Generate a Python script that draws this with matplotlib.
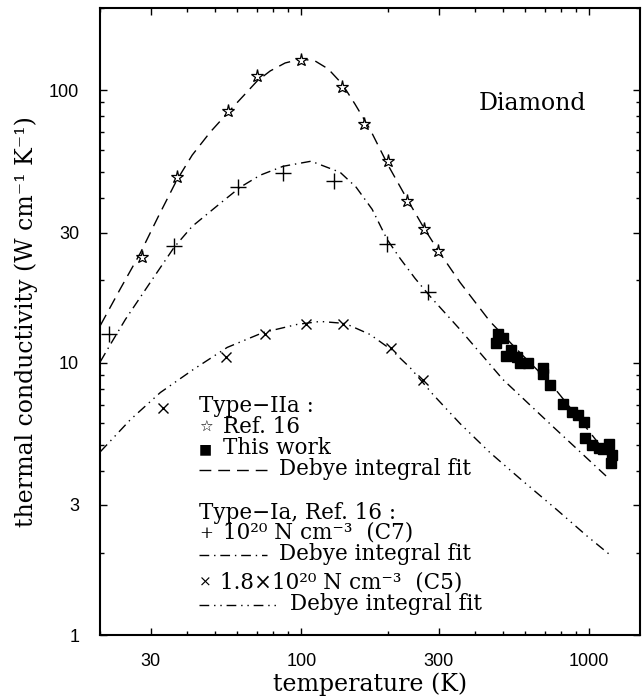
import matplotlib
matplotlib.use('Agg')
import matplotlib.pyplot as plt
from matplotlib.lines import Line2D
from matplotlib.ticker import FixedLocator, LogLocator, NullFormatter, FixedFormatter

plt.rc('font', family='DejaVu Serif', size=15)

# Type IIa, Ref. 16 (stars)
T_ref16 = [27.9, 36.9, 55.8, 70.4, 100, 139, 165, 200, 232, 266, 299]
k_ref16 = [24.4, 48.0, 83.5, 112.6, 129, 102.6, 74.8, 55.1, 39.3, 30.8, 25.7]

# Type IIa, this work (squares)
T_this = [474, 483, 503, 513, 533, 562, 574, 614, 689, 692, 730, 812, 868,
          911, 958, 970, 1023, 1080, 1117, 1169, 1186, 1201]
k_this = [11.8, 12.7, 12.3, 10.6, 11.1, 10.5, 10.0, 10.0, 9.11, 9.56, 8.30,
          7.07, 6.57, 6.44, 6.03, 5.29, 4.99, 4.86, 4.82, 5.02, 4.28, 4.59]

# Type Ia, C7 (plus) and C5 (cross)
T_c7 = [21.5, 36.2, 60.2, 86.4, 130.3, 198.6, 275]
k_c7 = [12.75, 26.7, 43.9, 49.4, 46.2, 27.2, 18.1]
T_c5 = [33.1, 54.6, 75, 104.2, 140, 205, 264]
k_c5 = [6.8, 10.5, 12.7, 13.9, 13.9, 11.3, 8.6]

# Debye integral fits
T_fit2a = [20.07, 23.5, 27.6, 31.9, 36.8, 41.8, 48.3, 55.8, 62.9, 70.3, 78.0,
           87.9, 100, 111.7, 124, 138.7, 153.6, 173.1, 200.1, 231.1, 266.9,
           298.5, 355.8, 452, 574, 730, 928, 1179]
k_fit2a = [13.7, 18.6, 25.2, 34.4, 46.3, 57.7, 70.1, 83.0, 95.1, 108, 117.5,
           125.7, 130.0, 127.8, 119.5, 105.2, 88.8, 71.9, 53.0, 40.4, 31.1,
           25.8, 19.68, 14.15, 10.88, 8.44, 6.17, 4.47]
T_fitc7 = [20.07, 21.73, 24.5, 29.9, 36.2, 41.8, 52.8, 61.4, 72.0, 86.5, 108.2,
           136.4, 155.0, 176.2, 198.6, 220.3, 248.3, 280.0, 355.7, 501.5, 747.5, 1160]
k_fitc7 = [10.09, 11.65, 14.39, 19.68, 26.5, 31.6, 38.7, 44.0, 48.7, 52.5, 54.8,
           49.9, 44.0, 36.5, 28.3, 24.1, 20.36, 17.49, 13.22, 8.66, 5.82, 3.78]
T_fitc5 = [20.07, 25.5, 32.4, 42.2, 55.3, 73.8, 96.8, 116.3, 142.0, 173.4, 205.0,
           238.6, 286.7, 355.8, 452.1, 574.4, 772.0, 981, 1179]
k_fitc5 = [4.71, 6.17, 7.76, 9.43, 11.36, 12.89, 13.80, 14.15, 13.91, 12.67, 11.16,
           9.58, 7.63, 5.97, 4.67, 3.75, 2.88, 2.31, 1.97]

ls_2a = (0, (8.5, 5))
ls_c7 = (0, (7, 3.5, 1, 3.5))
ls_c5 = (0, (7, 3.5, 1, 3.5, 1, 3.5))

fig = plt.figure(figsize=(6.42, 6.98), dpi=100)
ax = fig.add_axes([100/642, 63/698, 540/642, 627/698])

ax.plot(T_fit2a, k_fit2a, color='k', lw=1.0, ls=ls_2a)
ax.plot(T_fitc7, k_fitc7, color='k', lw=1.0, ls=ls_c7)
ax.plot(T_fitc5, k_fitc5, color='k', lw=1.0, ls=ls_c5)

ax.plot(T_ref16, k_ref16, '*', ms=9.5, mfc='white', mec='k', mew=0.9)
ax.plot(T_this, k_this, 's', ms=7.5, color='k')
ax.plot(T_c7, k_c7, '+', ms=11, mew=1.0, color='k')
ax.plot(T_c5, k_c5, 'x', ms=7, mew=1.0, color='k')

ax.set_xscale('log')
ax.set_yscale('log')
ax.set_xlim(20, 1500)
ax.set_ylim(1, 200)

ax.xaxis.set_major_locator(FixedLocator([30, 100, 300, 1000]))
ax.xaxis.set_major_formatter(FixedFormatter(['30', '100', '300', '1000']))
ax.yaxis.set_major_locator(FixedLocator([1, 3, 10, 30, 100]))
ax.yaxis.set_major_formatter(FixedFormatter(['1', '3', '10', '30', '100']))
for a in (ax.xaxis, ax.yaxis):
    a.set_minor_locator(LogLocator(base=10, subs=range(2, 10), numticks=20))
    a.set_minor_formatter(NullFormatter())
ax.tick_params(which='both', direction='in', top=True, right=True, width=1.0)
ax.tick_params(which='major', length=5)
ax.tick_params(which='minor', length=3)
ax.tick_params(axis='x', pad=13)
ax.tick_params(axis='y', pad=15)
for lab in ax.get_xticklabels() + ax.get_yticklabels():
    lab.set_family('Liberation Sans')
    lab.set_fontsize(13)
for s in ax.spines.values():
    s.set_linewidth(1.5)

ax.set_xlabel('temperature (K)', fontsize=17, labelpad=2)
ax.set_ylabel('thermal conductivity (W cm⁻¹ K⁻¹)', fontsize=17, labelpad=8)

ax.text((532-100)/540, (635-103)/627, 'Diamond', transform=ax.transAxes,
        ha='center', va='center', fontsize=17)

# legend block
def axy(px, py):
    return ((px - 100) / 540, (635 - py) / 627)

sym = ['DejaVu Serif', 'DejaVu Sans']
def txt(px, py, s, size=15.5):
    x, y = axy(px, py)
    ax.text(x, y, s, transform=ax.transAxes, ha='left', va='center',
            fontsize=size, family=sym)

def sample(px0, px1, py, ls):
    x0, y = axy(px0, py)
    x1, _ = axy(px1, py)
    ax.add_line(Line2D([x0, x1], [y, y], transform=ax.transAxes,
                       color='k', lw=1.0, ls=ls))

txt(199, 406, 'Type−IIa :')
txt(199, 428, '☆', size=11)
txt(223, 427, 'Ref. 16')
txt(199, 449, '■', size=10)
txt(223, 448, 'This work')
sample(199, 267, 470, ls_2a)
txt(279, 469, 'Debye integral fit')
txt(199, 513, 'Type−Ia, Ref. 16 :')
txt(199, 534, '+', size=12)
txt(223, 533, '10²⁰ N cm⁻³  (C7)')
sample(199, 267, 555, ls_c7)
txt(279, 554, 'Debye integral fit')
txt(199, 583, '×', size=11)
txt(220, 582, '1.8×10²⁰ N cm⁻³  (C5)')
sample(199, 278, 605, ls_c5)
txt(290, 604, 'Debye integral fit')

fig.savefig('out.png', dpi=100)
